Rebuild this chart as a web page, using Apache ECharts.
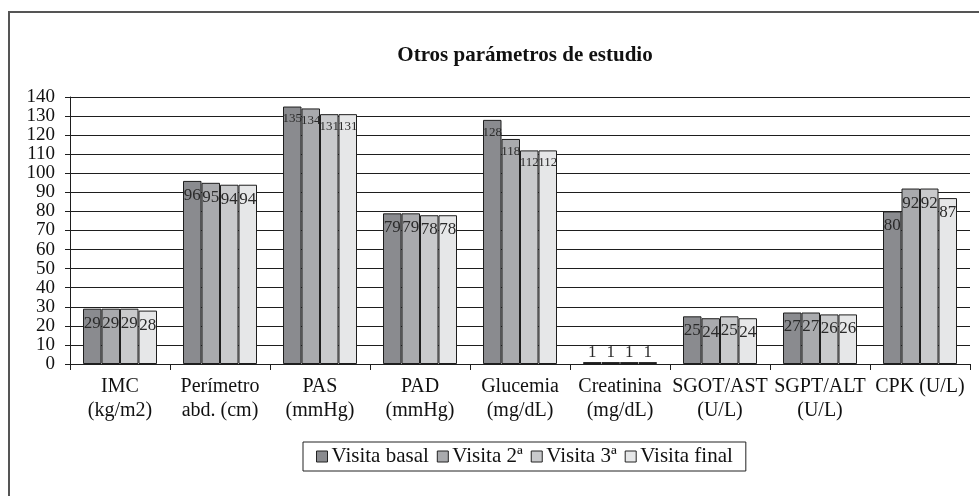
<!DOCTYPE html>
<html>
<head>
    <meta charset="utf-8">
    <title>Otros parámetros de estudio</title>
    <script type="text/javascript" src="https://cdn.jsdelivr.net/npm/echarts@6/dist/echarts.min.js"></script>
    <style>
        html, body { margin: 0; padding: 0; background: #fff; }
        #container { width: 979px; height: 496px; }
    </style>
</head>
<body>
<div id="container"></div>
<script type="text/javascript">
    // datos
    var categorias = ['IMC\n(kg/m2)', 'Perímetro\nabd. (cm)', 'PAS\n(mmHg)', 'PAD\n(mmHg)',
        'Glucemia\n(mg/dL)', 'Creatinina\n(mg/dL)', 'SGOT/AST\n(U/L)', 'SGPT/ALT\n(U/L)', 'CPK (U/L)'];
    var visitaBasal = [29, 96, 135, 79, 128, 1, 25, 27, 80];
    var visita2 = [29, 95, 134, 79, 118, 1, 24, 27, 92];
    var visita3 = [29, 94, 131, 78, 112, 1, 25, 26, 92];
    var visitaFinal = [28, 94, 131, 78, 112, 1, 24, 26, 87];
    var nombres = ['Visita basal', 'Visita 2ª', 'Visita 3ª', 'Visita final'];
    var colores = ['#8a8b8f', '#a9aaad', '#c9cacc', '#e6e7e8'];

    var fuente = '"Liberation Serif", "DejaVu Serif", serif';

    var dom = document.getElementById('container');
    var myChart = echarts.init(dom, null, { renderer: 'canvas' });

    // etiquetas: numeros de 3 cifras mas pequeños, valores minimos encima de la barra
    function datos(arr) {
        return arr.map(function (v) {
            var lab = { fontSize: v >= 100 ? 13 : 17 };
            if (v < 5) { lab.position = 'top'; lab.distance = 1; }
            return { value: v, label: lab };
        });
    }

    var series = [visitaBasal, visita2, visita3, visitaFinal].map(function (arr, i) {
        return {
            name: nombres[i],
            type: 'bar',
            data: datos(arr),
            barGap: '0%',
            barCategoryGap: '26%',
            itemStyle: { color: colores[i], borderColor: '#1e1e1e', borderWidth: 1 },
            label: {
                show: true,
                position: 'insideTop',
                distance: 6,
                color: '#2a2a2a',
                fontFamily: fuente,
                fontSize: 17
            }
        };
    });

    var option = {
        animation: false,
        title: {
            text: 'Otros parámetros de estudio',
            left: 520,
            textAlign: 'center',
            top: 40,
            textStyle: { fontFamily: fuente, fontSize: 21, fontWeight: 'bold', color: '#111' }
        },
        graphic: [{
            type: 'rect',
            shape: { x: 9, y: 12, width: 990, height: 500 },
            style: { fill: null, stroke: '#555', lineWidth: 2 },
            silent: true
        }],
        legend: {
            data: nombres,
            left: 303,
            top: 442,
            itemWidth: 11,
            itemHeight: 11,
            itemGap: 8,
            padding: [4, 13, 4, 13],
            borderColor: '#222',
            borderWidth: 1,
            icon: 'rect',
            itemStyle: { borderColor: '#222', borderWidth: 1 },
            textStyle: { fontFamily: fuente, fontSize: 21, color: '#111', padding: [0, 0, 0, -1] }
        },
        grid: { left: 70, right: 9, top: 97, bottom: 132 },
        xAxis: {
            type: 'category',
            data: categorias,
            axisLine: { lineStyle: { color: '#1e1e1e' } },
            axisTick: { show: true, length: 6, lineStyle: { color: '#1e1e1e' } },
            axisLabel: {
                interval: 0,
                margin: 11,
                lineHeight: 24,
                fontFamily: fuente,
                fontSize: 20,
                color: '#111'
            }
        },
        yAxis: {
            type: 'value',
            min: 0,
            max: 140,
            interval: 10,
            axisLine: { show: true, lineStyle: { color: '#1e1e1e' } },
            axisTick: { show: true, length: 5, lineStyle: { color: '#1e1e1e' } },
            splitLine: { lineStyle: { color: '#1e1e1e', width: 1 } },
            axisLabel: { margin: 15, fontFamily: fuente, fontSize: 19, color: '#111', lineHeight: 16 }
        },
        series: series
    };

    myChart.setOption(option);
    window.addEventListener('resize', myChart.resize);
</script>
</body>
</html>
